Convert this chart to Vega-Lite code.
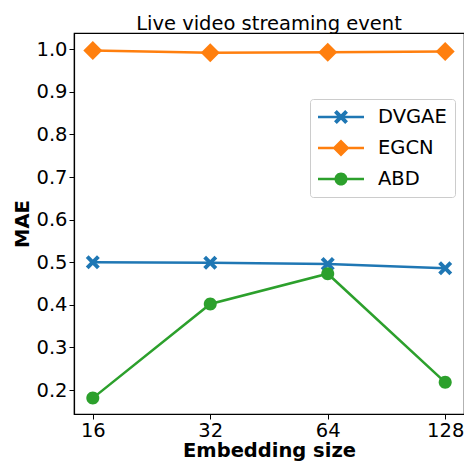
{
  "$schema": "https://vega.github.io/schema/vega-lite/v6.json",
  "autosize": {"type": "none"},
  "padding": {"left": 74, "top": 33, "right": 0, "bottom": 49},
  "width": 390,
  "height": 381,
  "background": "white",
  "title": {"text": "Live video streaming event", "font": "DejaVu Sans", "fontSize": 19.5, "fontWeight": "normal", "color": "black", "offset": -1, "anchor": "middle"},
  "config": {
    "view": {"stroke": "black", "strokeWidth": 1.2},
    "axis": {"domainColor": "black", "domainWidth": 1.2, "tickColor": "black", "tickSize": 5, "labelColor": "black", "titleColor": "black", "labelFont": "DejaVu Sans", "titleFont": "DejaVu Sans", "labelFontSize": 19.5, "titleFontSize": 19.5, "titleFontWeight": "bold", "grid": false, "labelPadding": 2}
  },
  "data": {"values": [
    {"size": 16, "model": "DVGAE", "mae": 0.500},
    {"size": 32, "model": "DVGAE", "mae": 0.499},
    {"size": 64, "model": "DVGAE", "mae": 0.496},
    {"size": 128, "model": "DVGAE", "mae": 0.486},
    {"size": 16, "model": "EGCN", "mae": 0.997},
    {"size": 32, "model": "EGCN", "mae": 0.992},
    {"size": 64, "model": "EGCN", "mae": 0.993},
    {"size": 128, "model": "EGCN", "mae": 0.995},
    {"size": 16, "model": "ABD", "mae": 0.181},
    {"size": 32, "model": "ABD", "mae": 0.402},
    {"size": 64, "model": "ABD", "mae": 0.473},
    {"size": 128, "model": "ABD", "mae": 0.218}
  ]},
  "encoding": {
    "x": {"field": "size", "type": "ordinal", "sort": "ascending", "scale": {"type": "point", "padding": 0.16}, "axis": {"title": "Embedding size", "labelAngle": 0, "titlePadding": 2}},
    "y": {"field": "mae", "type": "quantitative", "scale": {"domain": [0.1437, 1.0383], "nice": false, "zero": false}, "axis": {"title": "MAE", "values": [0.2, 0.3, 0.4, 0.5, 0.6, 0.7, 0.8, 0.9, 1.0], "format": ".1f", "titlePadding": 3}},
    "color": {"field": "model", "type": "nominal", "scale": {"domain": ["DVGAE", "EGCN", "ABD"], "range": ["#1f77b4", "#ff7f0e", "#2ca02c"]},
      "legend": {
        "title": null, "orient": "none", "legendX": 236, "legendY": 66,
        "padding": 8, "cornerRadius": 3, "strokeColor": "#cccccc", "fillColor": "rgba(255,255,255,0.8)",
        "symbolSize": 2116, "symbolOpacity": 1, "clipHeight": 20, "rowPadding": 11, "labelOffset": 14, "symbolOffset": 0,
        "labelFont": "DejaVu Sans", "labelFontSize": 19.5, "labelColor": "black", "labelLimit": 300,
        "encode": {"symbols": {"update": {
          "size": {"value": 2116},
          "fillOpacity": {"value": 1},
          "opacity": {"value": 1},
          "strokeWidth": {"value": 0},
          "stroke": {"value": "transparent"}
        }}}
      }
    }
  },
  "layer": [
    {"mark": {"type": "point", "filled": true, "opacity": 0, "size": 400},
     "encoding": {
       "shape": {"field": "model", "type": "nominal", "legend": null, "scale": {"domain": ["DVGAE", "EGCN", "ABD"], "range": [
         "M-1,-0.055L1,-0.055L1,0.055L-1,0.055ZM-0.304,-0.183L-0.183,-0.304L0,-0.122L0.183,-0.304L0.304,-0.183L0.122,0L0.304,0.183L0.183,0.304L0,0.122L-0.183,0.304L-0.304,0.183L-0.122,0Z",
         "M-1,-0.055L1,-0.055L1,0.055L-1,0.055ZM-0.37,0L0,-0.37L0.37,0L0,0.37Z",
         "M-1,-0.055L1,-0.055L1,0.055L-1,0.055ZM-0.283,0A0.283,0.283 0 1,1 0.283,0A0.283,0.283 0 1,1 -0.283,0Z"]}}
     }},
    {"mark": {"type": "line", "strokeWidth": 2.5}, "encoding": {}},
    {"transform": [{"filter": "datum.model === 'DVGAE'"}],
     "mark": {"type": "point", "filled": true, "opacity": 1, "size": 400, "shape": "M-0.7,-0.42L-0.42,-0.7L0,-0.28L0.42,-0.7L0.7,-0.42L0.28,0L0.7,0.42L0.42,0.7L0,0.28L-0.42,0.7L-0.7,0.42L-0.28,0Z"},
     "encoding": {}},
    {"transform": [{"filter": "datum.model === 'EGCN'"}],
     "mark": {"type": "point", "filled": true, "opacity": 1, "size": 400, "shape": "M-0.95,0L0,-0.95L0.95,0L0,0.95Z"},
     "encoding": {}},
    {"transform": [{"filter": "datum.model === 'ABD'"}],
     "mark": {"type": "point", "filled": true, "opacity": 1, "size": 400, "shape": "M-0.65,0A0.65,0.65 0 1,1 0.65,0A0.65,0.65 0 1,1 -0.65,0Z"},
     "encoding": {}}
  ]
}
